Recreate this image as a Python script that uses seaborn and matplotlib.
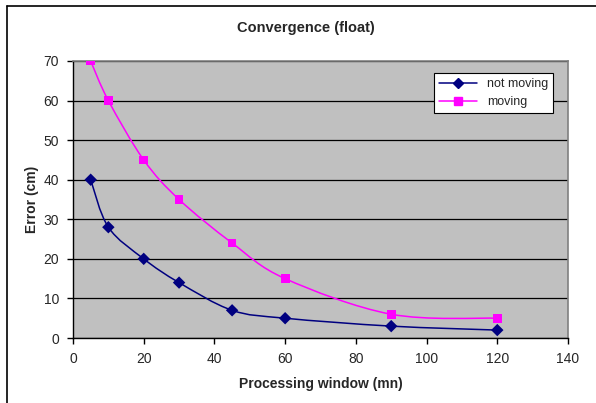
import numpy as np
import pandas as pd
import matplotlib
matplotlib.use("Agg")
import matplotlib.pyplot as plt
import seaborn as sns
from matplotlib.path import Path
from matplotlib.patches import PathPatch
from matplotlib.lines import Line2D

window = [5, 10, 20, 30, 45, 60, 90, 120]
not_moving = [40, 28, 20, 14, 7, 5, 3, 2]
moving = [70, 60, 45, 35, 24, 15, 6, 5]
series_names = ["not moving", "moving"]
colors = ["#000080", "#FF00FF"]
markers = ["D", "s"]

sns.set_theme(style="white")
plt.rcParams['font.family'] = ['Liberation Sans', 'DejaVu Sans']

fig = plt.figure(figsize=(5.96, 4.03), dpi=100)
ax = fig.add_axes([73/596, 1-338/403, (568-73)/596, (338-61)/403])
ax.set_facecolor("#C0C0C0")

df = pd.DataFrame({"x": window * 2,
                   "y": not_moving + moving,
                   "s": [series_names[0]] * len(window) + [series_names[1]] * len(window)})


def smooth_path(xs, ys, t=1/6):
    pts = np.column_stack([xs, ys]).astype(float)
    verts = [pts[0]]
    codes = [Path.MOVETO]
    n = len(pts)
    for i in range(n - 1):
        p0 = pts[i - 1] if i > 0 else pts[i]
        p1 = pts[i]
        p2 = pts[i + 1]
        p3 = pts[i + 2] if i + 2 < n else pts[i + 1]
        c1 = p1 + (p2 - p0) * t
        c2 = p2 - (p3 - p1) * t
        verts += [c1, c2, p2]
        codes += [Path.CURVE4] * 3
    return Path(verts, codes)


for name, col, yv in zip(series_names, colors, [not_moving, moving]):
    ax.add_patch(PathPatch(smooth_path(window, yv), facecolor="none",
                           edgecolor=col, lw=1.1, zorder=3))

sns.scatterplot(data=df, x="x", y="y", hue="s", style="s",
                palette=dict(zip(series_names, colors)),
                markers=dict(zip(series_names, markers)),
                s=40, linewidth=0, legend=False, ax=ax, zorder=4)

ax.set_xlim(0, 140)
ax.set_ylim(0, 70)
ax.set_xticks(range(0, 141, 20))
ax.set_yticks(range(0, 71, 10))
ax.yaxis.grid(True, color="black", lw=0.9)
ax.set_axisbelow(True)
for sp in ["top", "right"]:
    ax.spines[sp].set_color("#808080")
    ax.spines[sp].set_linewidth(1.2)
for sp in ["left", "bottom"]:
    ax.spines[sp].set_color("black")
    ax.spines[sp].set_linewidth(1.0)
ax.tick_params(axis="both", direction="out", length=4, width=1, color="black",
               labelsize=10, pad=6, bottom=True, left=True)
ax.set_xlabel("Processing window (mn)", fontsize=10, fontweight="bold", labelpad=8)
ax.set_ylabel("Error (cm)", fontsize=10, fontweight="bold", labelpad=3)
fig.text(306/596, 1-28/403, "Convergence (float)", ha="center", va="center",
         fontsize=10.5, fontweight="bold")

handles = [Line2D([0], [0], color=c, marker=m, markersize=5.5, lw=1.1)
           for c, m in zip(colors, markers)]
leg = ax.legend(handles, series_names, loc="upper right",
                bbox_to_anchor=((553-73)/495, 1-(73-61)/277),
                fontsize=9, frameon=True, fancybox=False, framealpha=1,
                edgecolor="black", borderpad=0.4, handlelength=3,
                labelspacing=0.5, borderaxespad=0)
leg.get_frame().set_linewidth(0.8)

fig.add_artist(Line2D([7/596, 7/596], [0, 1-6/403], color="black", lw=1.2,
                      transform=fig.transFigure))
fig.add_artist(Line2D([7/596, 1], [1-6/403, 1-6/403], color="black", lw=1.2,
                      transform=fig.transFigure))

fig.savefig("out.png", dpi=100)
